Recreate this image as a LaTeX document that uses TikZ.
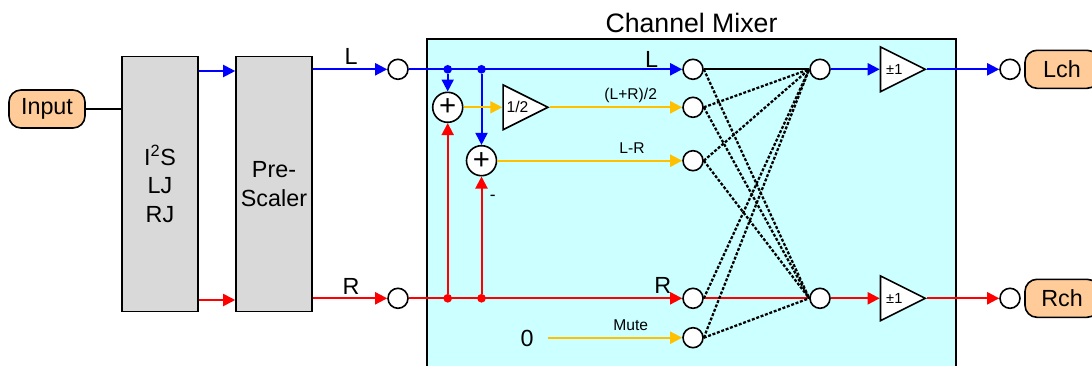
\documentclass[tikz,border=0pt]{standalone}
\usepackage{fontspec}
\setmainfont{Liberation Sans}
\usetikzlibrary{arrows.meta,shapes.geometric}
\definecolor{mixerfill}{HTML}{CCFFFF}
\definecolor{blockfill}{HTML}{D9D9D9}
\definecolor{portfill}{HTML}{FFCC99}
\definecolor{midline}{HTML}{FFC000}
\newcommand{\bigtext}{\fontsize{17.5}{21.4}\selectfont}
\newcommand{\smalltext}{\fontsize{11.7}{14}\selectfont}
\tikzset{
    sig/.style={line width=1.5pt, -{Triangle[length=9pt,width=9pt]}},
    plainsig/.style={line width=1.5pt},
    mixline/.style={line width=1.7pt, black, dash pattern=on 2.2pt off 1.3pt},
    block/.style={draw, line width=1.2pt, fill=blockfill, minimum width=57pt, minimum height=191.5pt, inner sep=0pt, align=center, font=\bigtext},
    port/.style={draw, line width=1.2pt, fill=portfill, rounded corners=9pt, minimum height=28.5pt, inner sep=0pt, font=\bigtext},
    sw/.style={draw, circle, line width=1.2pt, fill=white, minimum size=15pt, inner sep=0pt},
    sum/.style={draw, circle, line width=1.2pt, fill=white, minimum size=22.5pt, inner sep=0pt, font=\fontsize{22}{22}\selectfont},
    amp/.style={draw, isosceles triangle, isosceles triangle apex angle=53.1, line width=1.2pt, fill=white, inner sep=0pt, minimum height=33.6pt, anchor=lower side},
    junction/.style={circle, fill=#1, minimum size=6.5pt, inner sep=0pt},
    lab/.style={font=\bigtext, inner sep=0pt},
    smalllab/.style={font=\smalltext, inner sep=0pt}
}
\begin{document}
\begin{tikzpicture}[x=0.75pt,y=-0.75pt]
    \useasboundingbox (0,0) rectangle (1092,365);

    % Mixer background
    \node[draw, line width=1.2pt, fill=mixerfill, minimum width=396.75pt, minimum height=252pt] (mixer) at (691.5,207) {};
    \node[font=\fontsize{20}{24}\selectfont, inner sep=0pt] (title) at (691.5,23) {Channel Mixer};

    % Left blocks
    \node[port, minimum width=57pt] (input) at (47,109) {Input};
    \node[block] (i2s) at (160,184) {I\textsuperscript{2}S\\LJ\\RJ};
    \node[block] (pre) at (274,184) {Pre-\\Scaler};
    \coordinate (iL) at (i2s.east |- 0,71);
    \coordinate (iR) at (i2s.east |- 0,300);
    \coordinate (pL) at (pre.west |- 0,71);
    \coordinate (pR) at (pre.west |- 0,300);
    \coordinate (qL) at (pre.east |- 0,69.3);
    \coordinate (qR) at (pre.east |- 0,298.3);

    % Input switches
    \node[sw] (inL) at (398,69.3) {};
    \node[sw] (inR) at (398,298.3) {};

    % Sum and divide
    \node[junction=blue] (dotA) at (447.7,69.3) {};
    \node[junction=blue] (dotB) at (481.5,69.3) {};
    \node[junction=red] (dotC) at (447.7,298.3) {};
    \node[junction=red] (dotD) at (481.5,298.3) {};
    \node[sum] (sumA) at (447.7,107.3) {+};
    \node[sum] (sumB) at (481.5,160.7) {+};
    \node[amp] (half) at (502.3,107.3) {\smalltext 1/2};

    % Mixer inputs
    \node[sw] (mixL) at (693,69.3) {};
    \node[sw] (mixS) at (693,107.3) {};
    \node[sw] (mixD) at (693,160.7) {};
    \node[sw] (mixR) at (693,298.3) {};
    \node[sw] (mixM) at (693,337.7) {};
    \coordinate (zero) at (547.7,337.7);

    % Mixer outputs
    \node[sw] (outL) at (820,69.3) {};
    \node[sw] (outR) at (820,298.3) {};
    \node[amp] (ampL) at (879.7,69.3) {\fontsize{11}{12}\selectfont ±1\hspace{3pt}};
    \node[amp] (ampR) at (879.7,298.3) {\fontsize{11}{12}\selectfont ±1\hspace{3pt}};
    \node[sw] (chL) at (1010,69.3) {};
    \node[sw] (chR) at (1010,298.3) {};
    \node[port, minimum width=55.5pt] (lch) at (1062,69.3) {Lch};
    \node[port, minimum width=55.5pt] (rch) at (1062,298.3) {Rch};

    % Left connectors
    \draw[plainsig] (input) -- (input -| i2s.west);
    \draw[sig, blue] (iL) -- (pL);
    \draw[sig, red] (iR) -- (pR);
    \draw[sig, blue] (qL) -- (inL);
    \draw[sig, red] (qR) -- (inR);

    % Rails
    \draw[sig, blue] (inL) -- (mixL);
    \draw[sig, red] (inR) -- (mixR);
    \draw[sig, blue] (dotA) -- (sumA);
    \draw[sig, blue] (dotB) -- (sumB);
    \draw[sig, red] (dotC) -- (sumA);
    \draw[sig, red] (dotD) -- (sumB);
    \draw[sig, midline] (sumA) -- (half.lower side);
    \draw[sig, midline] (half.apex) -- (mixS);
    \draw[sig, midline] (sumB) -- (mixD);
    \draw[sig, midline] (zero) -- (mixM);

    % Crossing lines
    \draw[plainsig] (mixL.east) -- (outL.west);
    \draw[plainsig, red] (mixR.east) -- (outR.west);
    \draw[mixline] (mixL.east) -- (outR.west);
    \draw[mixline] (mixS.east) -- (outL.west);
    \draw[mixline] (mixS.east) -- (outR.west);
    \draw[mixline] (mixD.east) -- (outL.west);
    \draw[mixline] (mixD.east) -- (outR.west);
    \draw[mixline] (mixR.east) -- (outL.west);
    \draw[mixline] (mixM.east) -- (outL.west);
    \draw[mixline] (mixM.east) -- (outR.west);

    % Outputs
    \draw[sig, blue] (outL) -- (ampL.lower side);
    \draw[sig, red] (outR) -- (ampR.lower side);
    \draw[sig, blue] (ampL.apex) -- (chL);
    \draw[sig, red] (ampR.apex) -- (chR);

    % Labels
    \node[lab] (labL) at (351,56) {L};
    \node[lab] (labR) at (351,286) {R};
    \node[lab] (labML) at (651.7,59) {L};
    \node[lab] (labMR) at (662.7,285.7) {R};
    \node[smalllab] (labS) at (630.7,95.7) {(L+R)/2};
    \node[smalllab] (labD) at (632,148) {L-R};
    \node[smalllab] (labM) at (630.7,325.7) {Mute};
    \node[lab] (labZ) at (527,338) {0};
    \node[font=\fontsize{13}{14}\selectfont, inner sep=0pt] (labN) at (492.7,198) {-};
\end{tikzpicture}
\end{document}
